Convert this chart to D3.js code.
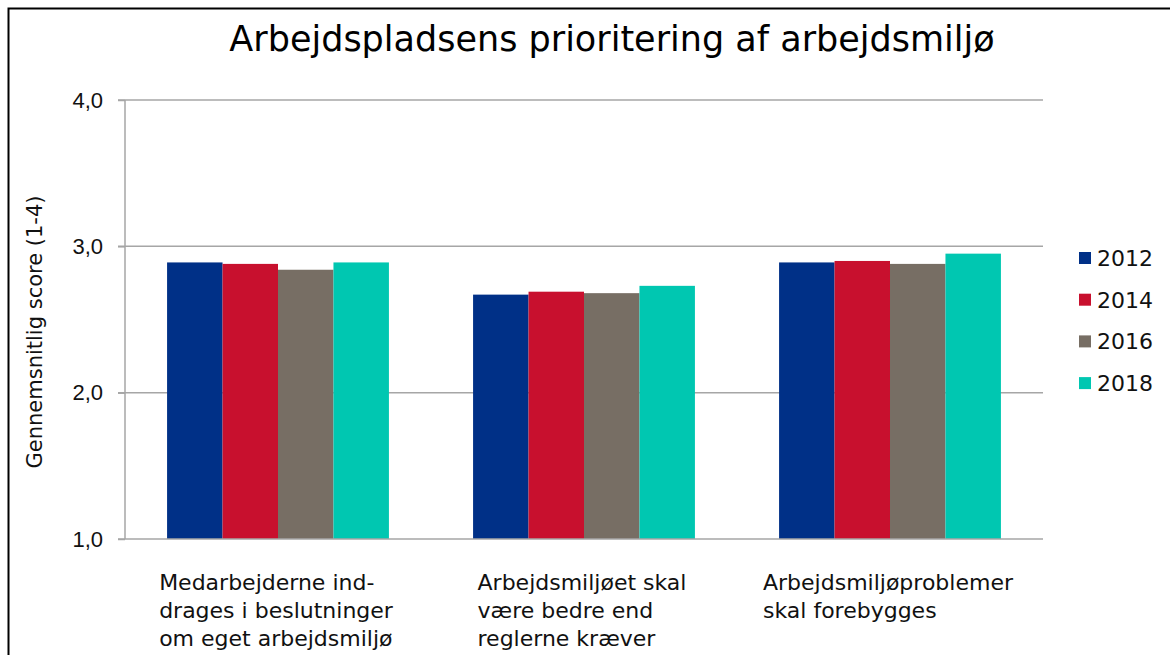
<!DOCTYPE html>
<html>
<head>
<meta charset="utf-8">
<script src="https://cdn.jsdelivr.net/npm/d3@7"></script>
<style>
  body { margin: 0; background: #fff; }
  svg { display: block; font-family: "DejaVu Sans", Verdana, sans-serif; }
  .grid line { stroke: #a6a6a6; stroke-width: 1.5; }
  .axis path, .axis line { stroke: #a6a6a6; stroke-width: 1.5; }
  .axis text { fill: #111; font-size: 22px; }
</style>
</head>
<body>
<div class="panel"></div>
<script>

// Data

const categories = [
    ["Medarbejderne ind-", "drages i beslutninger", "om eget arbejdsmiljø"],
    ["Arbejdsmiljøet skal", "være bedre end", "reglerne kræver"],
    ["Arbejdsmiljøproblemer", "skal forebygges"]
];
const years = ["2012", "2014", "2016", "2018"];
const colors = ["#003087", "#c8102e", "#776e64", "#00c7b1"];

const values2012 = [2.89, 2.67, 2.89];
const values2014 = [2.88, 2.69, 2.90];
const values2016 = [2.84, 2.68, 2.88];
const values2018 = [2.89, 2.73, 2.95];

const yTicks = [1, 2, 3, 4];

const series = [values2012, values2014, values2016, values2018];

// Chart

const params = { width: 1170, height: 655 };
const margin = { top: 100, right: 127, bottom: 116, left: 125 };

const svg = d3.select(".panel").append("svg")
    .attr("width", params.width)
    .attr("height", params.height);

// frame
svg.append("rect")
    .attr("x", 8.5).attr("y", 8.5)
    .attr("width", params.width + 20).attr("height", params.height + 20)
    .attr("fill", "none")
    .attr("stroke", "#000")
    .attr("stroke-width", 2);

const x0 = d3.scaleBand()
    .domain(d3.range(categories.length))
    .range([margin.left, params.width - margin.right])
    .paddingInner(0.275)
    .paddingOuter(0.1375);

const x1 = d3.scaleBand()
    .domain(d3.range(years.length))
    .range([0, x0.bandwidth()]);

const y = d3.scaleLinear()
    .domain([1, 4])
    .range([params.height - margin.bottom, margin.top]);

// gridlines
svg.append("g")
    .attr("class", "grid")
    .selectAll("line")
    .data(yTicks.slice(1))
    .enter().append("line")
    .attr("x1", margin.left - 7)
    .attr("x2", params.width - margin.right)
    .attr("y1", d => y(d))
    .attr("y2", d => y(d));

// bars
const group = svg.selectAll(".cat")
    .data(d3.range(categories.length))
    .enter().append("g")
    .attr("class", "cat")
    .attr("transform", i => `translate(${x0(i)},0)`);

group.selectAll("rect")
    .data(i => series.map((s, k) => ({ k: k, v: s[i] })))
    .enter().append("rect")
    .attr("x", d => x1(d.k))
    .attr("y", d => y(d.v))
    .attr("width", x1.bandwidth())
    .attr("height", d => y(1) - y(d.v))
    .attr("fill", d => colors[d.k]);

// y axis
const yAxis = svg.append("g")
    .attr("class", "axis")
    .attr("transform", `translate(${margin.left},0)`)
    .call(d3.axisLeft(y)
        .tickValues(yTicks)
        .tickSize(7)
        .tickPadding(15)
        .tickFormat(d => d3.format(".1f")(d).replace(".", ",")));
yAxis.select(".domain").attr("d", `M0,${y(4)}V${y(1)}`);

// x axis line
svg.append("line")
    .attr("x1", margin.left - 7)
    .attr("x2", params.width - margin.right)
    .attr("y1", y(1))
    .attr("y2", y(1))
    .attr("stroke", "#a6a6a6")
    .attr("stroke-width", 1.5);

// category labels
const labels = svg.selectAll(".label")
    .data(categories)
    .enter().append("text")
    .attr("class", "label")
    .attr("font-size", 22)
    .attr("fill", "#111");

labels.each(function(lines, i) {
    const t = d3.select(this);
    lines.forEach((line, j) => {
        t.append("tspan")
            .attr("y", y(1) + 51 + j * 28)
            .text(line);
    });
    let w = 0;
    t.selectAll("tspan").each(function() { w = Math.max(w, this.getComputedTextLength()); });
    t.selectAll("tspan").attr("x", x0(i) + x0.bandwidth() / 2 - w / 2 - 2);
});

// title
svg.append("text")
    .attr("x", 612)
    .attr("y", 51)
    .attr("text-anchor", "middle")
    .attr("font-size", 35)
    .attr("fill", "#000")
    .text("Arbejdspladsens prioritering af arbejdsmiljø");

// y label
svg.append("text")
    .attr("transform", `translate(42,332) rotate(-90)`)
    .attr("text-anchor", "middle")
    .attr("font-size", 21)
    .attr("fill", "#111")
    .text("Gennemsnitlig score (1-4)");

// legend
const legend = svg.selectAll(".legend")
    .data(years)
    .enter().append("g")
    .attr("class", "legend")
    .attr("transform", (d, i) => `translate(1079,${252 + i * 41.7})`);

legend.append("rect")
    .attr("width", 12)
    .attr("height", 12)
    .attr("fill", (d, i) => colors[i]);

legend.append("text")
    .attr("x", 18)
    .attr("y", 14)
    .attr("font-size", 22)
    .attr("fill", "#111")
    .text(d => d);

</script>
</body>
</html>
